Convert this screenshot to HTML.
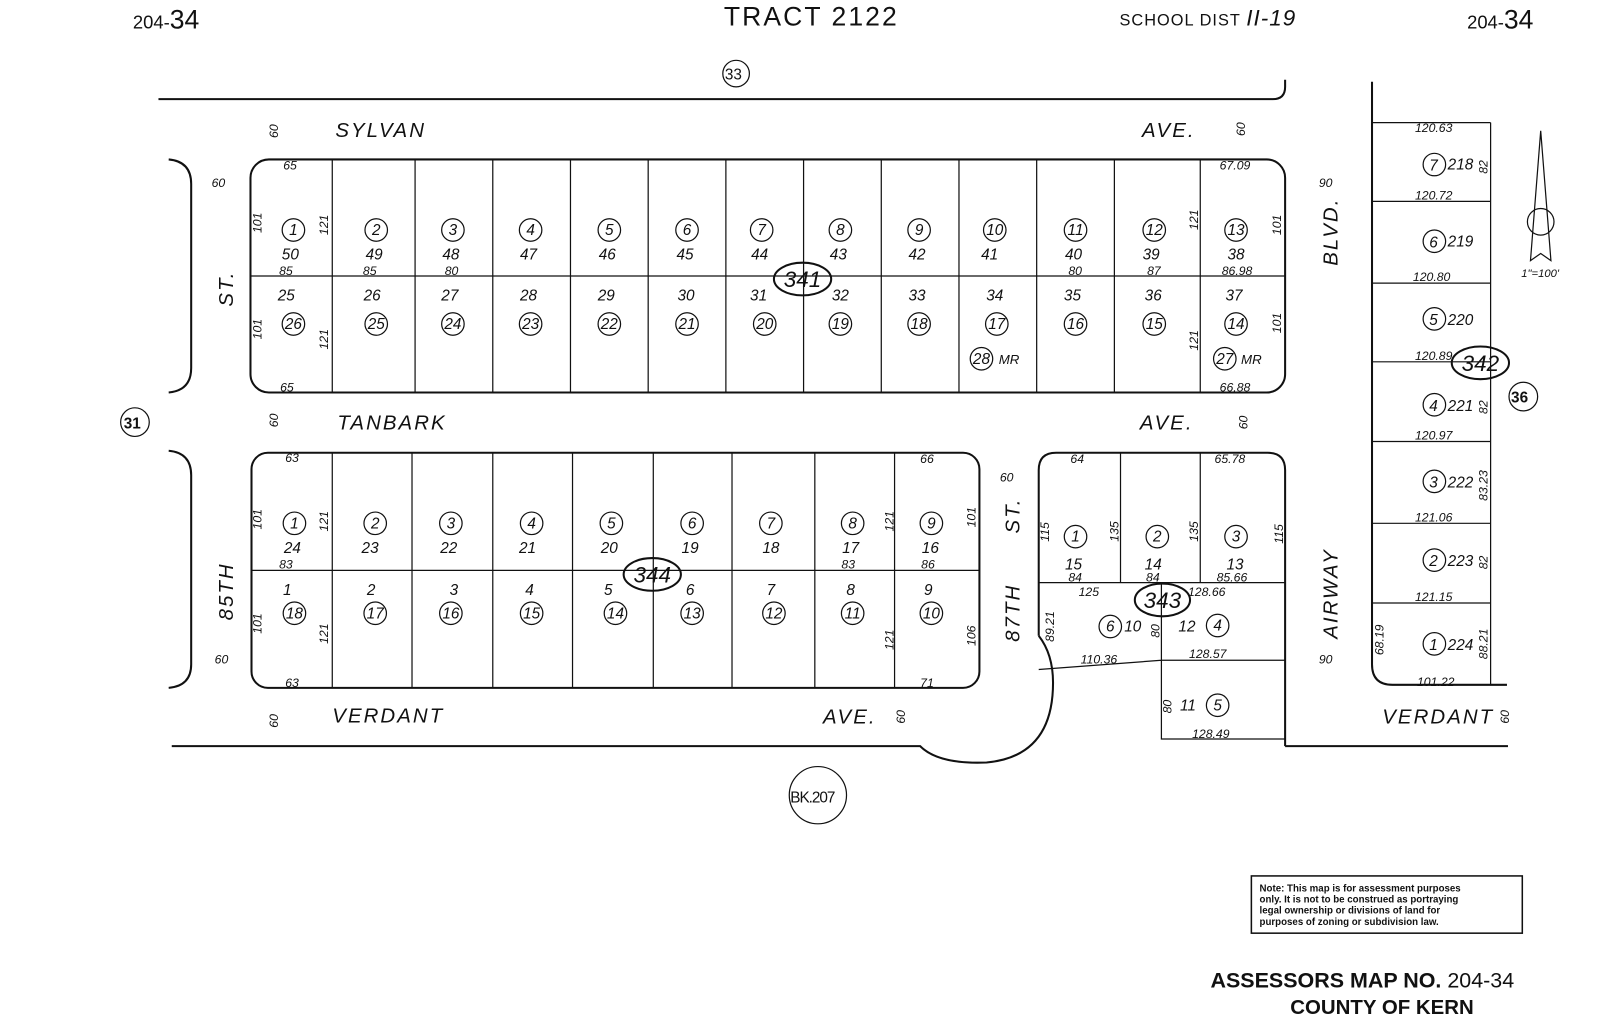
<!DOCTYPE html>
<html><head><meta charset="utf-8"><style>
html,body{margin:0;padding:0;background:#fff;}
svg{display:block}
text{font-family:"Liberation Sans",sans-serif;font-style:italic;fill:#111}
.s{font-size:12px}.m{font-size:15px}.l{font-size:20px;letter-spacing:2px}
.c{fill:none;stroke:#111;stroke-width:1.2}
</style></head><body>
<svg width="1600" height="1018" viewBox="0 0 1565 996" preserveAspectRatio="none" xmlns="http://www.w3.org/2000/svg">
<g fill="none" stroke="#111">
<path d="M155 97 H1245 Q1257 97 1257 85 V78" stroke-width="2"/>
<path d="M168 730 H900 Q918 748 965 746 Q1030 740 1030 668 Q1030 640 1016 622" stroke-width="2"/>
<path d="M1257 730 H1475" stroke-width="2"/>
<path d="M1342 80 V650 Q1342 670 1362 670 H1474" stroke-width="2"/>
<path d="M165 156 Q187 158 187 180 V360 Q187 382 165 384" stroke-width="2"/>
<path d="M165 441 Q187 443 187 465 V650 Q187 671 165 673" stroke-width="2"/>
<rect x="245" y="156" width="1012" height="228" rx="18" stroke-width="2"/>
<path d="M245 270 H1257 M325 156V384 M406 156V384 M482 156V384 M558 156V384 M634 156V384 M710 156V384 M786 156V384 M862 156V384 M938 156V384 M1014 156V384 M1090 156V384 M1174 156V384" stroke-width="1.2"/>
<rect x="246" y="443" width="712" height="230" rx="16" stroke-width="2"/>
<path d="M246 558 H958 M325 443V673 M403 443V673 M482 443V673 M560 443V673 M639 443V673 M716 443V673 M797 443V673 M875 443V673" stroke-width="1.2"/>
<path d="M1016 622 V460 Q1016 443 1033 443 H1240 Q1257 443 1257 460 V730" stroke-width="2"/>
<path d="M1016 570 H1257 M1096 443V570 M1174 443V570 M1136 570V723 H1257 M1016 655 L1136 646 H1257" stroke-width="1.2"/>
<path d="M1458 120 V670 M1342 120H1458 M1342 197H1458 M1342 277H1458 M1342 354H1458 M1342 432H1458 M1342 512H1458 M1342 590H1458" stroke-width="1.2"/>
<path d="M1507 128 L1497 255 L1507 248 L1517 255 Z" stroke-width="1.2"/>
<circle cx="1507" cy="217" r="13" stroke-width="1.2"/>
<rect x="1224" y="857" width="265" height="56" stroke-width="1.5"/>
</g>
<text x="130" y="28" style="font-style:normal;font-size:18px">204-<tspan font-size="26">34</tspan></text>
<text x="708" y="25" style="font-style:normal;font-size:26px;letter-spacing:2px">TRACT 2122</text>
<text x="1095" y="25" style="font-style:normal;font-size:16px;letter-spacing:1px">SCHOOL DIST <tspan font-size="22" font-style="italic">II-19</tspan></text>
<text x="1435" y="28" style="font-style:normal;font-size:18px">204-<tspan font-size="26">34</tspan></text>
<circle cx="720" cy="72" r="13" class="c"/><text x="709" y="78" class="m" style="font-style:normal">33</text>
<circle cx="132" cy="413" r="14" class="c"/><text x="121" y="419" class="m" style="font-style:normal;font-weight:bold">31</text>
<circle cx="1490" cy="388" r="14" class="c"/><text x="1478" y="394" class="m" style="font-style:normal;font-weight:bold">36</text>
<circle cx="800" cy="778" r="28" class="c"/><text x="773" y="785" style="font-style:normal;font-size:15px;letter-spacing:-1px">BK.207</text>
<text x="328" y="134" class="l">SYLVAN</text><text x="1117" y="134" class="l">AVE.</text>
<text x="330" y="420" class="l">TANBARK</text><text x="1115" y="420" class="l">AVE.</text>
<text x="325" y="707" class="l">VERDANT</text><text x="805" y="708" class="l">AVE.</text>
<text x="1352" y="708" class="l">VERDANT</text>
<text transform="translate(228,300) rotate(-90)" class="l">ST.</text>
<text transform="translate(228,607) rotate(-90)" class="l">85TH</text>
<text transform="translate(997,628) rotate(-90)" class="l">87TH</text>
<text transform="translate(997,522) rotate(-90)" class="l">ST.</text>
<text transform="translate(1308,260) rotate(-90)" class="l">BLVD.</text>
<text transform="translate(1308,625) rotate(-90)" class="l">AIRWAY</text>
<g class="s">
<text x="207" y="183">60</text><text x="210" y="649">60</text><text x="1290" y="183">90</text><text x="1290" y="649">90</text><text x="978" y="471">60</text>
<text transform="translate(272,135) rotate(-90)">60</text><text transform="translate(1218,133) rotate(-90)">60</text>
<text transform="translate(272,418) rotate(-90)">60</text><text transform="translate(1220,420) rotate(-90)">60</text>
<text transform="translate(272,712) rotate(-90)">60</text><text transform="translate(885,708) rotate(-90)">60</text><text transform="translate(1476,708) rotate(-90)">60</text>
</g>
<g class="s">
<text x="277" y="166">65</text><text x="274" y="383">65</text><text x="1193" y="166">67.09</text><text x="1193" y="383">66.88</text>
<text x="273" y="269">85</text><text x="355" y="269">85</text><text x="435" y="269">80</text><text x="1045" y="269">80</text><text x="1122" y="269">87</text><text x="1195" y="269">86.98</text>
<text transform="translate(256,228) rotate(-90)">101</text><text transform="translate(256,332) rotate(-90)">101</text>
<text transform="translate(321,230) rotate(-90)">121</text><text transform="translate(321,342) rotate(-90)">121</text>
<text transform="translate(1172,225) rotate(-90)">121</text><text transform="translate(1172,343) rotate(-90)">121</text>
<text transform="translate(1253,230) rotate(-90)">101</text><text transform="translate(1253,326) rotate(-90)">101</text>
</g>
<g class="c">
<circle cx="287" cy="225" r="11"/><circle cx="368" cy="225" r="11"/><circle cx="443" cy="225" r="11"/><circle cx="519" cy="225" r="11"/><circle cx="596" cy="225" r="11"/><circle cx="672" cy="225" r="11"/><circle cx="745" cy="225" r="11"/><circle cx="822" cy="225" r="11"/><circle cx="899" cy="225" r="11"/><circle cx="973" cy="225" r="11"/><circle cx="1052" cy="225" r="11"/><circle cx="1129" cy="225" r="11"/><circle cx="1209" cy="225" r="11"/>
<circle cx="287" cy="317" r="11"/><circle cx="368" cy="317" r="11"/><circle cx="443" cy="317" r="11"/><circle cx="519" cy="317" r="11"/><circle cx="596" cy="317" r="11"/><circle cx="672" cy="317" r="11"/><circle cx="748" cy="317" r="11"/><circle cx="822" cy="317" r="11"/><circle cx="899" cy="317" r="11"/><circle cx="975" cy="317" r="11"/><circle cx="1052" cy="317" r="11"/><circle cx="1129" cy="317" r="11"/><circle cx="1209" cy="317" r="11"/>
<circle cx="960" cy="351" r="11"/><circle cx="1198" cy="351" r="11"/>
<ellipse cx="785" cy="273" rx="28" ry="16" stroke-width="2"/>
</g>
<g class="m" text-anchor="middle">
<text x="287" y="230">1</text><text x="368" y="230">2</text><text x="443" y="230">3</text><text x="519" y="230">4</text><text x="596" y="230">5</text><text x="672" y="230">6</text><text x="745" y="230">7</text><text x="822" y="230">8</text><text x="899" y="230">9</text><text x="973" y="230">10</text><text x="1052" y="230">11</text><text x="1129" y="230">12</text><text x="1209" y="230">13</text>
<text x="284" y="254">50</text><text x="366" y="254">49</text><text x="441" y="254">48</text><text x="517" y="254">47</text><text x="594" y="254">46</text><text x="670" y="254">45</text><text x="743" y="254">44</text><text x="820" y="254">43</text><text x="897" y="254">42</text><text x="968" y="254">41</text><text x="1050" y="254">40</text><text x="1126" y="254">39</text><text x="1209" y="254">38</text>
<text x="280" y="294">25</text><text x="364" y="294">26</text><text x="440" y="294">27</text><text x="517" y="294">28</text><text x="593" y="294">29</text><text x="671" y="294">30</text><text x="742" y="294">31</text><text x="822" y="294">32</text><text x="897" y="294">33</text><text x="973" y="294">34</text><text x="1049" y="294">35</text><text x="1128" y="294">36</text><text x="1207" y="294">37</text>
<text x="287" y="322">26</text><text x="368" y="322">25</text><text x="443" y="322">24</text><text x="519" y="322">23</text><text x="596" y="322">22</text><text x="672" y="322">21</text><text x="748" y="322">20</text><text x="822" y="322">19</text><text x="899" y="322">18</text><text x="975" y="322">17</text><text x="1052" y="322">16</text><text x="1129" y="322">15</text><text x="1209" y="322">14</text>
<text x="960" y="356">28</text><text x="1198" y="356">27</text><text x="987" y="356" style="font-size:13px">MR</text><text x="1224" y="356" style="font-size:13px">MR</text>
<text x="785" y="281" style="font-size:22px">341</text>
</g>
<g class="s">
<text x="279" y="452">63</text><text x="279" y="672">63</text><text x="900" y="453">66</text><text x="900" y="672">71</text>
<text x="273" y="556">83</text><text x="823" y="556">83</text><text x="901" y="556">86</text>
<text transform="translate(256,518) rotate(-90)">101</text><text transform="translate(256,620) rotate(-90)">101</text>
<text transform="translate(321,520) rotate(-90)">121</text><text transform="translate(321,630) rotate(-90)">121</text>
<text transform="translate(874,520) rotate(-90)">121</text><text transform="translate(874,636) rotate(-90)">121</text>
<text transform="translate(954,516) rotate(-90)">101</text><text transform="translate(954,632) rotate(-90)">106</text>
</g>
<g class="c">
<circle cx="288" cy="512" r="11"/><circle cx="367" cy="512" r="11"/><circle cx="441" cy="512" r="11"/><circle cx="520" cy="512" r="11"/><circle cx="598" cy="512" r="11"/><circle cx="677" cy="512" r="11"/><circle cx="754" cy="512" r="11"/><circle cx="834" cy="512" r="11"/><circle cx="911" cy="512" r="11"/>
<circle cx="288" cy="600" r="11"/><circle cx="367" cy="600" r="11"/><circle cx="441" cy="600" r="11"/><circle cx="520" cy="600" r="11"/><circle cx="602" cy="600" r="11"/><circle cx="677" cy="600" r="11"/><circle cx="757" cy="600" r="11"/><circle cx="834" cy="600" r="11"/><circle cx="911" cy="600" r="11"/>
<ellipse cx="638" cy="562" rx="28" ry="16" stroke-width="2"/>
</g>
<g class="m" text-anchor="middle">
<text x="288" y="517">1</text><text x="367" y="517">2</text><text x="441" y="517">3</text><text x="520" y="517">4</text><text x="598" y="517">5</text><text x="677" y="517">6</text><text x="754" y="517">7</text><text x="834" y="517">8</text><text x="911" y="517">9</text>
<text x="286" y="541">24</text><text x="362" y="541">23</text><text x="439" y="541">22</text><text x="516" y="541">21</text><text x="596" y="541">20</text><text x="675" y="541">19</text><text x="754" y="541">18</text><text x="832" y="541">17</text><text x="910" y="541">16</text>
<text x="281" y="582">1</text><text x="363" y="582">2</text><text x="444" y="582">3</text><text x="518" y="582">4</text><text x="595" y="582">5</text><text x="675" y="582">6</text><text x="754" y="582">7</text><text x="832" y="582">8</text><text x="908" y="582">9</text>
<text x="288" y="605">18</text><text x="367" y="605">17</text><text x="441" y="605">16</text><text x="520" y="605">15</text><text x="602" y="605">14</text><text x="677" y="605">13</text><text x="757" y="605">12</text><text x="834" y="605">11</text><text x="911" y="605">10</text>
<text x="638" y="570" style="font-size:22px">344</text>
</g>
<g class="s">
<text x="1047" y="453">64</text><text x="1188" y="453">65.78</text>
<text x="1045" y="569">84</text><text x="1121" y="569">84</text><text x="1190" y="569">85.66</text>
<text x="1055" y="583">125</text><text x="1162" y="583">128.66</text><text x="1057" y="649">110.36</text><text x="1163" y="644">128.57</text><text x="1166" y="722">128.49</text>
<text transform="translate(1026,530) rotate(-90)">115</text><text transform="translate(1094,530) rotate(-90)">135</text><text transform="translate(1172,530) rotate(-90)">135</text><text transform="translate(1255,532) rotate(-90)">115</text>
<text transform="translate(1031,628) rotate(-90)">89.21</text><text transform="translate(1134,624) rotate(-90)">80</text><text transform="translate(1146,698) rotate(-90)">80</text>
</g>
<g class="c">
<circle cx="1052" cy="525" r="11"/><circle cx="1132" cy="525" r="11"/><circle cx="1209" cy="525" r="11"/>
<circle cx="1086" cy="613" r="11"/><circle cx="1191" cy="612" r="11"/><circle cx="1191" cy="690" r="11"/>
<ellipse cx="1137" cy="587" rx="27" ry="16" stroke-width="2"/>
</g>
<g class="m" text-anchor="middle">
<text x="1052" y="530">1</text><text x="1132" y="530">2</text><text x="1209" y="530">3</text>
<text x="1050" y="557">15</text><text x="1128" y="557">14</text><text x="1208" y="557">13</text>
<text x="1086" y="618">6</text><text x="1108" y="618">10</text><text x="1161" y="618">12</text><text x="1191" y="617">4</text><text x="1162" y="695">11</text><text x="1191" y="695">5</text>
<text x="1137" y="595" style="font-size:22px">343</text>
</g>
<g class="s">
<text x="1384" y="129">120.63</text><text x="1384" y="195">120.72</text><text x="1382" y="275">120.80</text><text x="1384" y="352">120.89</text><text x="1384" y="430">120.97</text><text x="1384" y="510">121.06</text><text x="1384" y="588">121.15</text><text x="1386" y="671">101.22</text>
<text transform="translate(1455,170) rotate(-90)">82</text><text transform="translate(1455,405) rotate(-90)">82</text><text transform="translate(1455,490) rotate(-90)">83.23</text><text transform="translate(1455,557) rotate(-90)">82</text><text transform="translate(1455,645) rotate(-90)">88.21</text><text transform="translate(1353,641) rotate(-90)">68.19</text>
<text x="1488" y="271" style="font-size:11px">1"=100'</text>
</g>
<g class="c">
<circle cx="1403" cy="161" r="11"/><circle cx="1403" cy="236" r="11"/><circle cx="1403" cy="312" r="11"/><circle cx="1403" cy="396" r="11"/><circle cx="1403" cy="471" r="11"/><circle cx="1403" cy="548" r="11"/><circle cx="1403" cy="630" r="11"/>
<ellipse cx="1448" cy="355" rx="28" ry="16" stroke-width="2"/>
</g>
<g class="m">
<text x="1398" y="167">7</text><text x="1416" y="166">218</text>
<text x="1398" y="242">6</text><text x="1416" y="241">219</text>
<text x="1398" y="318">5</text><text x="1416" y="318">220</text>
<text x="1398" y="402">4</text><text x="1416" y="402">221</text>
<text x="1398" y="477">3</text><text x="1416" y="477">222</text>
<text x="1398" y="554">2</text><text x="1416" y="554">223</text>
<text x="1398" y="636">1</text><text x="1416" y="636">224</text>
<text x="1448" y="363" text-anchor="middle" style="font-size:22px">342</text>
</g>
<g style="font-size:9.5px;font-weight:bold">
<text x="1232" y="872" style="font-style:normal">Note: This map is for assessment purposes</text>
<text x="1232" y="883" style="font-style:normal">only. It is not to be construed as portraying</text>
<text x="1232" y="894" style="font-style:normal">legal ownership or divisions of land for</text>
<text x="1232" y="905" style="font-style:normal">purposes of zoning or subdivision law.</text>
</g>
<text x="1184" y="966" style="font-style:normal;font-weight:bold;font-size:21px">ASSESSORS MAP NO.<tspan font-weight="normal" font-style="normal"> 204-34</tspan></text>
<text x="1262" y="992" style="font-style:normal;font-weight:bold;font-size:20px">COUNTY OF KERN</text>
</svg>
</body></html>
